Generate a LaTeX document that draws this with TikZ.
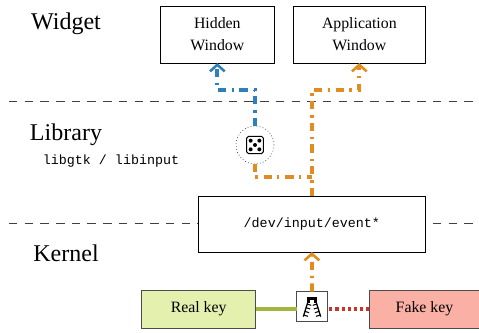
\documentclass[tikz,border=0pt]{standalone}
\usepackage{fontspec}
\setmainfont{Liberation Serif}
\setmonofont{Liberation Mono}
\usetikzlibrary{calc,arrows.meta}
\definecolor{flowblue}{RGB}{45,128,186}
\definecolor{floworange}{RGB}{224,140,32}
\definecolor{realgreen}{RGB}{163,181,60}
\definecolor{fakered}{RGB}{200,52,40}
\definecolor{realfill}{RGB}{228,240,174}
\definecolor{fakefill}{RGB}{251,176,165}
\begin{document}
\begin{tikzpicture}[every node/.style={outer sep=0pt}]
	\tikzstyle{box}=[draw,fill=white,line width=0.65pt,align=center,font=\fontsize{13.5}{19}\selectfont]
	\tikzstyle{layer}=[font=\fontsize{20.5}{24}\selectfont]
	\tikzstyle{flow}=[line width=3.2pt,dash pattern=on 7pt off 4.5pt on 2pt off 5pt,-{Straight Barb[length=2mm,width=4.4mm,line width=2.2pt]}]
	\tikzstyle{link}=[line width=3.2pt,dash pattern=on 7pt off 4.5pt on 2pt off 5pt]
	\tikzstyle{sep}=[line width=0.8pt,draw=black!75,dash pattern=on 7.2pt off 6.2pt]
	\useasboundingbox (0,0) rectangle (14.37,9.99);

	\draw [sep] (0.27,6.96) -- (14.37,6.96);											% Widget / Library
	\draw [sep] (0.27,3.3) -- (14.37,3.3);												% Library / Kernel

	\node (hidden) [box, minimum width=3.4cm, minimum height=1.71cm] at (6.52,8.955) {Hidden\\Window};
	\node (app) [box, minimum width=3.98cm, minimum height=1.71cm] at (10.78,8.955) {Application\\Window};
	\node (event) [box, minimum width=6.81cm, minimum height=1.68cm, font=\ttfamily\fontsize{11.4}{13}\selectfont] at (9.355,3.27) {/dev/input/event*};
	\node (real) [box, fill=realfill, draw=black!70, minimum width=3.42cm, minimum height=1.14cm] at (5.96,0.72) {Real key};
	\node (fake) [box, fill=fakefill, draw=black!70, minimum width=3.6cm, minimum height=1.14cm] at (12.87,0.72) {\hspace*{-0.27cm}Fake key};
	\node (zip) [box, draw=black!70, minimum width=0.92cm, minimum height=0.9cm] at (9.36,0.79) {};
	\node (dice) [draw=black!80, circle, dotted, line width=0.6pt, minimum size=1.14cm] at (7.65,5.64) {};

	\node (widgetlabel) [layer] at (1.98,9.27) {Widget};
	\node (librarylabel) [layer] at (1.98,5.94) {Library};
	\node (kernellabel) [layer] at (1.98,2.4) {Kernel};
	\node (libslabel) [font=\ttfamily\fontsize{11.4}{13}\selectfont] at (3.33,5.17) {libgtk / libinput};

	\draw [flow, flowblue] (dice.north) |- ($(hidden.south)+(0,-0.81)$) -- (hidden.south);
	\draw [flow, floworange] (event.north) |- ($(app.south)+(0,-0.81)$) -- (app.south);
	\draw [link, floworange] (dice.south) |- ($(event.north)+(0,0.57)$);
	\draw [flow, floworange] (zip.north) -- (event.south);
	\draw [line width=3.2pt, realgreen] (real.east) -- (real.east -| zip.west);
	\draw [line width=3.2pt, fakered, dash pattern=on 2.6pt off 2.6pt] (fake.west) -- (fake.west -| zip.east);

	% Wuerfel
	\draw [line width=0.9pt, rounded corners=1.5pt, fill=white] ($(dice)+(-0.25,-0.26)$) rectangle ($(dice)+(0.25,0.26)$);
	\foreach \a/\b in {-0.13/-0.13,-0.13/0.13,0.13/-0.13,0.13/0.13,0/0}
		\fill ($(dice)+(\a,\b)$) circle (1.7pt);

	% Reissverschluss
	\begin{scope}[shift={(zip.center)}]
		\fill (-0.14,0.12) rectangle (0.14,0.29);
		\fill [white] (-0.06,0.12) rectangle (0.06,0.2);
		\draw [line width=1.1pt] (-0.13,0.12) -- (-0.26,-0.3);
		\draw [line width=1.1pt] (0.13,0.12) -- (0.26,-0.3);
		\foreach \y in {0.08,-0.03,-0.14,-0.25}{
			\draw [line width=0.9pt] ({-0.14+0.3*(\y-0.12)},\y) -- ++(0.13,-0.04);
			\draw [line width=0.9pt] ({0.14-0.3*(\y-0.12)},\y) -- ++(-0.13,-0.04);
		}
	\end{scope}
\end{tikzpicture}
\end{document}
